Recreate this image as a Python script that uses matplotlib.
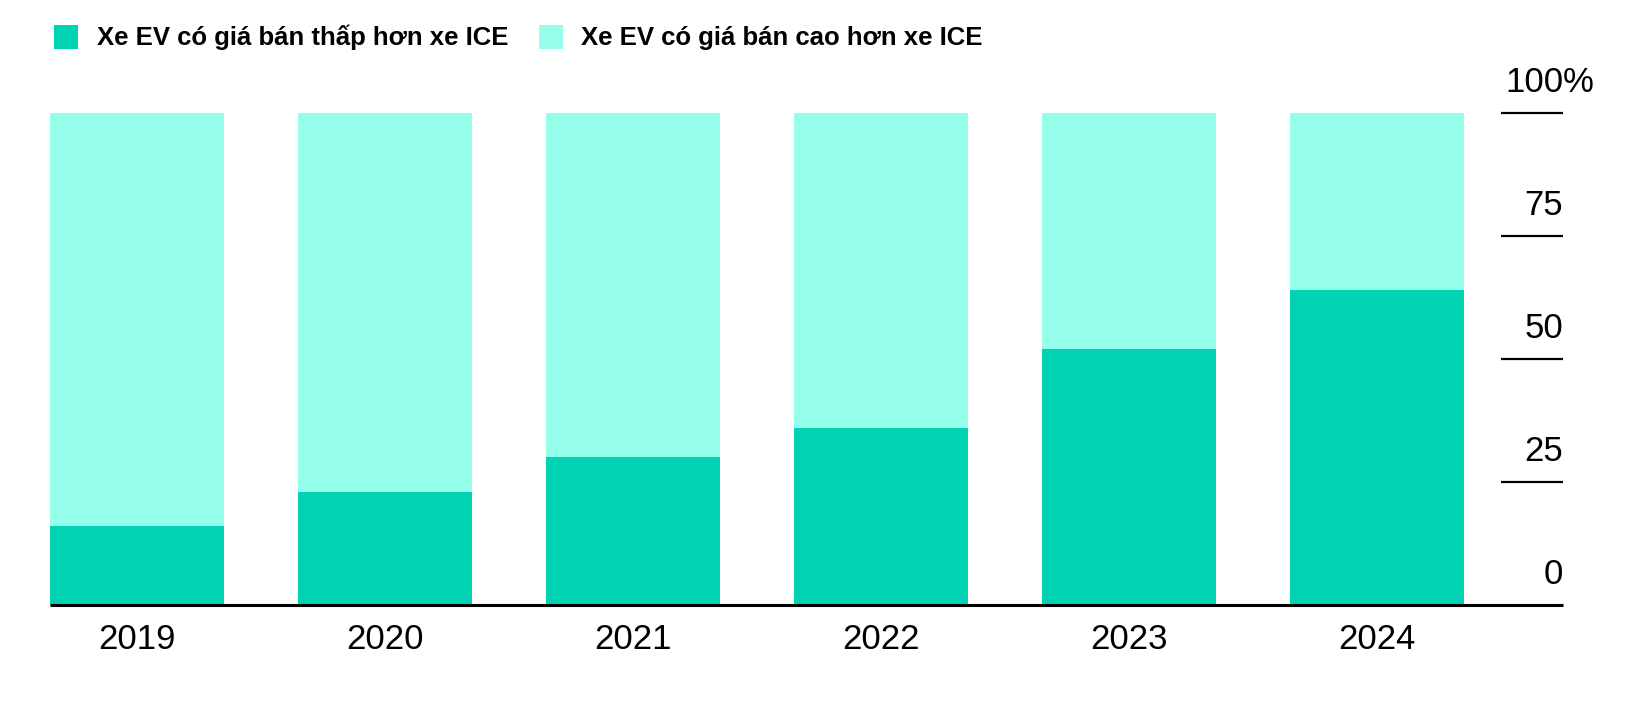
import numpy as np
import matplotlib
matplotlib.use("Agg")
import matplotlib.pyplot as plt
from matplotlib.patches import Patch

plt.rcParams['font.family'] = ['Liberation Sans', 'DejaVu Sans']

years = ["2019", "2020", "2021", "2022", "2023", "2024"]
cheaper = [16, 23, 30, 36, 52, 64]  # EV priced below ICE (%)
pricier = [100 - v for v in cheaper]  # EV priced above ICE (%)
y_ticks = [25, 50, 75, 100]
y_labels = ["25", "50", "75", "100"]

dark = "#00D2B4"
light = "#96FFEC"

fig = plt.figure(figsize=(16.32, 7.06), dpi=100)
ax = fig.add_axes([50 / 1632, 101 / 706, 1513 / 1632, 492 / 706])

x = np.arange(len(years))
ax.bar(x, cheaper, width=0.7, color=dark, linewidth=0)
ax.bar(x, pricier, width=0.7, bottom=cheaper, color=light, linewidth=0)

ax.set_xlim(-0.35, 5.75)
ax.set_ylim(0, 100)
for s in ax.spines.values():
    s.set_visible(False)
ax.set_yticks([])
ax.set_xticks(x)
ax.set_xticklabels(years, fontsize=25)
ax.tick_params(axis="x", length=0, pad=13)

# baseline and right-side tick marks
ax.hlines(0, -0.35, 5.75, color="black", linewidth=2.2, zorder=3, clip_on=False)
ax.hlines(y_ticks, 5.5, 5.75, color="black", linewidth=1.6, clip_on=False)
off = 2.8
ax.text(5.75, off, "0", ha="right", va="bottom", fontsize=25, clip_on=False)
for t, lab in zip(y_ticks, y_labels):
    ax.text(5.75, t + off, lab, ha="right", va="bottom", fontsize=25, clip_on=False)
ax.text(5.75, 100 + off, "%", ha="left", va="bottom", fontsize=25, clip_on=False)

handles = [Patch(facecolor=dark, edgecolor="none"), Patch(facecolor=light, edgecolor="none")]
fig.legend(handles, ["Xe EV có giá bán thấp hơn xe ICE", "Xe EV có giá bán cao hơn xe ICE"],
           loc="upper left", bbox_to_anchor=(0.033, 0.965), ncol=2, frameon=False,
           borderpad=0, borderaxespad=0,
           handlelength=0.93, handleheight=1.05, handletextpad=0.73, columnspacing=1.2,
           prop={"weight": "bold", "size": 18.5})

fig.savefig("out.png", dpi=100)
